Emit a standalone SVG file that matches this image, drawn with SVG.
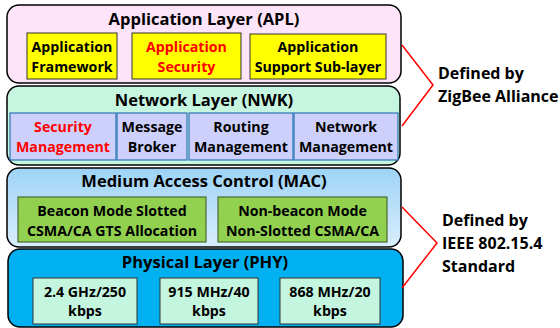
<svg xmlns="http://www.w3.org/2000/svg" width="560" height="328" viewBox="0 0 560 328">
<defs>
<linearGradient id="macGrad" x1="0" y1="0" x2="0" y2="1">
<stop offset="0" stop-color="#9dd3f6"/>
<stop offset="1" stop-color="#d9eefc"/>
</linearGradient>
</defs>
<style>
text{font-family:"Open Sans",Lato,"Liberation Sans",sans-serif;font-weight:bold;fill:#000;text-anchor:middle}
.title{font-size:16.5px}
.sub{font-size:14.2px}
.red{fill:#ff0000}
.side{font-size:16px;text-anchor:start}
.layer{stroke:#000;stroke-width:1.5}
.apl{fill:#ffff00;stroke:#333;stroke-width:1}
.nwk{fill:#cdd0fa;stroke:#2e75b6;stroke-width:1.2}
.mac{fill:#92d050;stroke:#38521f;stroke-width:1}
.phy{fill:#c4f5df;stroke:#333;stroke-width:1}
.br{fill:none;stroke:#ff0000;stroke-width:1.5}
</style>
<g id="apl">
<rect class="layer" x="7" y="5" width="394" height="78" rx="12" fill="#fde4f8"/>
<text class="title" x="204" y="25">Application Layer (APL)</text>
<rect class="apl" x="27" y="33" width="90" height="46"/>
<text class="sub" x="72" y="52">Application</text>
<text class="sub" x="72" y="72">Framework</text>
<rect class="apl" x="132" y="33" width="109" height="46"/>
<text class="sub red" x="186.5" y="52">Application</text>
<text class="sub red" x="186.5" y="72">Security</text>
<rect class="apl" x="250" y="34" width="136" height="45"/>
<text class="sub" x="318" y="52">Application</text>
<text class="sub" x="318" y="72">Support Sub-layer</text>
</g>
<g id="nwk">
<rect class="layer" x="7" y="86" width="393" height="79" rx="12" fill="#c6f5e0"/>
<text class="title" x="204" y="106">Network Layer (NWK)</text>
<rect class="nwk" x="10" y="113" width="106" height="47"/>
<text class="sub red" x="63" y="132">Security</text>
<text class="sub red" x="63" y="152">Management</text>
<rect class="nwk" x="117" y="113" width="70" height="47"/>
<text class="sub" x="152" y="132">Message</text>
<text class="sub" x="152" y="152">Broker</text>
<rect class="nwk" x="189" y="113" width="104" height="47"/>
<text class="sub" x="241" y="132">Routing</text>
<text class="sub" x="241" y="152">Management</text>
<rect class="nwk" x="294" y="113" width="104" height="47"/>
<text class="sub" x="346" y="132">Network</text>
<text class="sub" x="346" y="152">Management</text>
</g>
<g id="mac">
<rect class="layer" x="7" y="168" width="394" height="79" rx="12" fill="url(#macGrad)"/>
<text class="title" x="204" y="187">Medium Access Control (MAC)</text>
<rect class="mac" x="18" y="197" width="188" height="45"/>
<text class="sub" x="112" y="216">Beacon Mode Slotted</text>
<text class="sub" x="112" y="236">CSMA/CA GTS Allocation</text>
<rect class="mac" x="218" y="197" width="169" height="45"/>
<text class="sub" x="302.5" y="216">Non-beacon Mode</text>
<text class="sub" x="302.5" y="236">Non-Slotted CSMA/CA</text>
</g>
<g id="phy">
<rect class="layer" x="8" y="249" width="395" height="78" rx="12" fill="#00b0f0"/>
<text class="title" x="205" y="268">Physical Layer (PHY)</text>
<rect class="phy" x="33" y="278" width="104" height="46"/>
<text class="sub" x="85" y="297">2.4 GHz/250</text>
<text class="sub" x="85" y="316">kbps</text>
<rect class="phy" x="160" y="278" width="98" height="46"/>
<text class="sub" x="209" y="297">915 MHz/40</text>
<text class="sub" x="209" y="316">kbps</text>
<rect class="phy" x="280" y="278" width="100" height="46"/>
<text class="sub" x="330" y="297">868 MHz/20</text>
<text class="sub" x="330" y="316">kbps</text>
</g>
<g id="connectors">
<polyline class="br" points="402,45 433,85 402,126"/>
<polyline class="br" points="402,207 437,243 402,288"/>
</g>
<g id="labels">
<text class="side" x="438" y="79">Defined by</text>
<text class="side" x="438" y="102">ZigBee Alliance</text>
<text class="side" x="442" y="226">Defined by</text>
<text class="side" x="442" y="249">IEEE 802.15.4</text>
<text class="side" x="442" y="272">Standard</text>
</g>
</svg>
